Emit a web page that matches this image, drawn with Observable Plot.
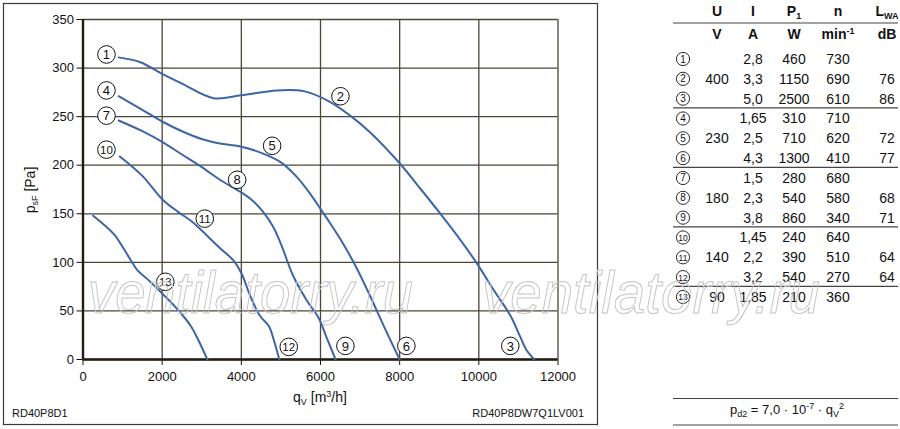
<!DOCTYPE html>
<html>
<head>
<meta charset="utf-8">
<script src="https://cdn.jsdelivr.net/npm/d3@7"></script>
<script src="https://cdn.jsdelivr.net/npm/@observablehq/plot@0.6"></script>
<style>
  html, body { margin: 0; padding: 0; background: white; }
  #wrap { position: relative; width: 900px; height: 429px; background: white; overflow: hidden;
          font-family: "Liberation Sans", Arial, Helvetica, sans-serif; }
  #wrap > svg, #wrap > figure { position: absolute; left: 0; top: 0; margin: 0; }
  #overlay { pointer-events: none; }
</style>
</head>
<body>
<div id="wrap"></div>
<script>
// ---------- data ----------
const xTicks = [0, 2000, 4000, 6000, 8000, 10000, 12000];
const yTicks = [0, 50, 100, 150, 200, 250, 300, 350];

// curve through operating points 1-2-3
const curveA_q = [900, 1450, 2000, 2500, 3300, 4000, 4900, 5600, 6250, 6750, 7250, 8000, 8500, 9030, 9500, 9950, 10400, 10800, 11050, 11200, 11400];
const curveA_p = [311, 306, 294, 284, 269, 272, 277, 276, 265, 251, 234, 202, 177, 150, 125, 99, 70, 45, 23, 10, 0];
// curve 4-5-6
const curveB_q = [900, 1500, 2000, 2500, 3000, 3500, 4000, 4550, 5000, 5400, 5750, 6000, 6200, 6500, 6850, 7200, 7650, 8000];
const curveB_p = [271, 257, 245, 235, 227, 222, 219, 212, 203, 188, 170, 155, 143, 124, 99, 70, 30, 0];
// curve 7-8-9
const curveC_q = [900, 1500, 2000, 2500, 3000, 3500, 4000, 4300, 4550, 4800, 5000, 5300, 5650, 5950, 6150, 6380];
const curveC_p = [246, 235, 224, 211, 198, 184, 172, 163, 152, 137, 119, 87, 61, 43, 23, 0];
// curve 10-11-12
const curveD_q = [930, 1500, 2000, 2400, 2750, 3450, 3800, 4000, 4230, 4470, 4700, 4820, 4960];
const curveD_p = [209, 189, 165, 152, 142, 115, 102, 89, 65, 45, 34, 20, 0];
// curve 13
const curveE_q = [257, 780, 1030, 1240, 1370, 1620, 2000, 2380, 2715, 2925, 3140];
const curveE_p = [148, 129, 114, 100, 92, 83, 68, 52, 35, 19, 0];

// circled labels on the chart
const labelNum = [1, 2, 3, 4, 5, 6, 7, 8, 9, 10, 11, 12, 13];
const labelQ = [593, 6503, 10795, 593, 4778, 8169, 593, 3894, 6629, 593, 3076, 5198, 2080];
const labelP = [314, 271, 14, 277, 220, 14, 251, 185, 14, 216, 145, 13, 80];

// table
const colU = ["", "400", "", "", "230", "", "", "180", "", "", "140", "", "90"];
const colI = ["2,8", "3,3", "5,0", "1,65", "2,5", "4,3", "1,5", "2,3", "3,8", "1,45", "2,2", "3,2", "1,85"];
const colP = ["460", "1150", "2500", "310", "710", "1300", "280", "540", "860", "240", "390", "540", "210"];
const colN = ["730", "690", "610", "710", "620", "410", "680", "580", "340", "640", "510", "270", "360"];
const colL = ["", "76", "86", "", "72", "77", "", "68", "71", "", "64", "64", ""];

// ---------- build ----------
const curves = [
  ["A", curveA_q, curveA_p], ["B", curveB_q, curveB_p], ["C", curveC_q, curveC_p],
  ["D", curveD_q, curveD_p], ["E", curveE_q, curveE_p]
];
const lineData = curves.flatMap(([id, qs, ps]) => qs.map((q, i) => ({curve: id, q, p: ps[i]})));
const labels = labelNum.map((n, i) => ({n: String(n), q: labelQ[i], p: labelP[i]}));

const gridColor = "#4d4536";
const blue = "#3c66a5";
const fmt = d => String(d);

const chart = Plot.plot({
  width: 600, height: 429,
  marginLeft: 82.5, marginRight: 42.5, marginTop: 19, marginBottom: 70,
  style: {fontFamily: '"Liberation Sans", Arial, Helvetica, sans-serif', fontSize: "13px", color: "#111", background: "transparent", overflow: "visible"},
  x: {domain: [0, 12000], ticks: xTicks, tickFormat: fmt, label: null, tickSize: 6, tickPadding: 6},
  y: {domain: [0, 350], ticks: yTicks, tickFormat: fmt, label: null, tickSize: 6, tickPadding: 3},
  marks: [
    Plot.ruleX(xTicks, {stroke: gridColor, strokeWidth: 1.3}),
    Plot.ruleY(yTicks, {stroke: gridColor, strokeWidth: 1.3}),
    Plot.ruleX([0], {stroke: "#221c12", strokeWidth: 2.4}),
    Plot.ruleY([0], {stroke: "#221c12", strokeWidth: 2.4}),
    Plot.line(lineData, {x: "q", y: "p", z: "curve", stroke: blue, strokeWidth: 2, curve: "catmull-rom"}),
    Plot.dot(labels, {x: "q", y: "p", r: 8.8, fill: "white", stroke: "#111", strokeWidth: 1}),
    Plot.text(labels, {x: "q", y: "p", text: "n", fontSize: d => d.n.length > 1 ? 11.5 : 13, fill: "#111", dy: 0.5})
  ]
});
document.getElementById("wrap").appendChild(chart);

// ---------- overlay: frame, axis titles, footers, table, watermark ----------
const ns = "http://www.w3.org/2000/svg";
const ov = d3.select("#wrap").append("svg")
  .attr("id", "overlay").attr("width", 900).attr("height", 429)
  .attr("xmlns", ns)
  .style("font-family", '"Liberation Sans", Arial, Helvetica, sans-serif')
  .style("fill", "#111");

// outer frame of chart panel
ov.append("rect").attr("x", 3.5).attr("y", 3.5).attr("width", 594).attr("height", 421)
  .attr("fill", "none").attr("stroke", "#3a3a3a").attr("stroke-width", 1.2);

// y axis title
const yt = ov.append("text").attr("transform", "translate(35,190) rotate(-90)")
  .attr("text-anchor", "middle").attr("font-size", 14);
yt.append("tspan").text("p");
yt.append("tspan").attr("font-size", 9).attr("dy", 3).text("sF");
yt.append("tspan").attr("dy", -3).text(" [Pa]");

// x axis title
const xt = ov.append("text").attr("x", 320).attr("y", 402)
  .attr("text-anchor", "middle").attr("font-size", 14);
xt.append("tspan").text("q");
xt.append("tspan").attr("font-size", 9).attr("dy", 3).text("V");
xt.append("tspan").attr("dy", -3).text(" [m");
xt.append("tspan").attr("font-size", 9).attr("dy", -5).text("3");
xt.append("tspan").attr("dy", 5).text("/h]");

// footers
ov.append("text").attr("x", 12).attr("y", 417).attr("font-size", 11).text("RD40P8D1");
ov.append("text").attr("x", 584).attr("y", 417).attr("font-size", 11).attr("text-anchor", "end").text("RD40P8DW7Q1LV001");

// table
const cx = {c: 683, U: 717, I: 753, P: 794, n: 838, L: 887};
const lineX1 = 673, lineX2 = 898;
const hdr = ov.append("g").attr("font-weight", "bold").attr("font-size", 14).attr("text-anchor", "middle");
hdr.append("text").attr("x", cx.U).attr("y", 16).text("U");
hdr.append("text").attr("x", cx.I).attr("y", 16).text("I");
const hp = hdr.append("text").attr("x", cx.P).attr("y", 16);
hp.append("tspan").text("P"); hp.append("tspan").attr("font-size", 9).attr("dy", 3).text("1");
hdr.append("text").attr("x", cx.n).attr("y", 16).text("n");
const hl = hdr.append("text").attr("x", cx.L).attr("y", 16);
hl.append("tspan").text("L"); hl.append("tspan").attr("font-size", 9).attr("dy", 3).text("WA");

hdr.append("text").attr("x", cx.U).attr("y", 39).text("V");
hdr.append("text").attr("x", cx.I).attr("y", 39).text("A");
hdr.append("text").attr("x", cx.P).attr("y", 39).text("W");
const hm = hdr.append("text").attr("x", cx.n).attr("y", 39);
hm.append("tspan").text("min"); hm.append("tspan").attr("font-size", 9).attr("dy", -5).text("-1");
hdr.append("text").attr("x", cx.L).attr("y", 39).text("dB");

const hline = y => ov.append("line").attr("x1", lineX1).attr("x2", lineX2).attr("y1", y).attr("y2", y)
  .attr("stroke", "#444").attr("stroke-width", 1.2);
hline(23);

const rowY = i => 64 + i * 19.83;
const body = ov.append("g").attr("font-size", 14).attr("text-anchor", "middle");
labelNum.forEach((num, i) => {
  const y = rowY(i);
  body.append("circle").attr("cx", cx.c).attr("cy", y - 5).attr("r", 6.6)
    .attr("fill", "white").attr("stroke", "#111").attr("stroke-width", 0.9);
  body.append("text").attr("x", cx.c).attr("y", y - 1.5).attr("font-size", num > 9 ? 8.5 : 10).text(num);
  body.append("text").attr("x", cx.U).attr("y", y).text(colU[i]);
  body.append("text").attr("x", cx.I).attr("y", y).text(colI[i]);
  body.append("text").attr("x", cx.P).attr("y", y).text(colP[i]);
  body.append("text").attr("x", cx.n).attr("y", y).text(colN[i]);
  body.append("text").attr("x", cx.L).attr("y", y).text(colL[i]);
  if (i % 3 === 2 && i < 12) hline(rowY(i) + 4.3);
});

// formula box
hline(398.5);
hline(425);
const f = ov.append("text").attr("x", 787).attr("y", 414).attr("font-size", 13).attr("text-anchor", "middle");
f.append("tspan").text("p");
f.append("tspan").attr("font-size", 9).attr("dy", 3).text("d2");
f.append("tspan").attr("dy", -3).text(" = 7,0 · 10");
f.append("tspan").attr("font-size", 9).attr("dy", -5).text("-7");
f.append("tspan").attr("dy", 5).text(" · q");
f.append("tspan").attr("font-size", 9).attr("dy", 3).text("V");
f.append("tspan").attr("font-size", 9).attr("dy", -8).text("2");

// watermark
[[88, 325], [482, 338]].forEach(([x, w]) => {
  ov.append("text").attr("x", x).attr("y", 313)
    .attr("font-size", 60).attr("font-style", "italic")
    .attr("font-family", '"Liberation Sans Narrow", "Liberation Sans", Arial, sans-serif')
    .attr("textLength", w).attr("lengthAdjust", "spacingAndGlyphs")
    .attr("fill", "none").attr("stroke", "#c4c4c4").attr("stroke-width", 1)
    .text("ventilatorry.ru");
});
</script>
</body>
</html>
